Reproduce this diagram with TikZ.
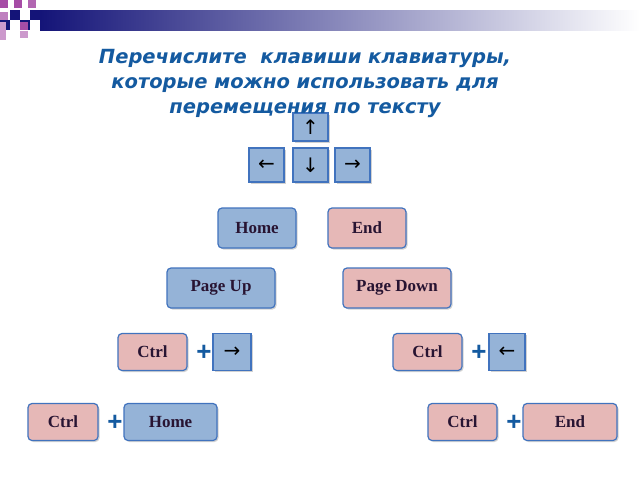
\documentclass[tikz,border=0pt]{standalone}
\usepackage{fontspec}
\setmainfont{Liberation Serif}
\newfontfamily\ttl{Liberation Sans}
\newfontfamily\arr{DejaVu Sans}
\usetikzlibrary{shadows}
\definecolor{kblue}{RGB}{149,179,215}
\definecolor{kpink}{RGB}{230,184,183}
\definecolor{kedge}{RGB}{65,115,190}
\definecolor{ttlc}{RGB}{20,90,160}
\definecolor{navy}{RGB}{20,20,120}
\definecolor{ktext}{RGB}{40,20,50}
\tikzset{
 key/.style={draw=kedge,line width=1.2pt,rounded corners=4pt,drop shadow={opacity=0.35,shadow xshift=1.5pt,shadow yshift=-1.5pt},font=\bfseries\fontsize{17}{17}\selectfont,text=ktext},
 bk/.style={key,fill=kblue},
 pk/.style={key,fill=kpink},
 ak/.style={draw=kedge,line width=1.2pt,fill=kblue,drop shadow={opacity=0.35,shadow xshift=1.5pt,shadow yshift=-1.5pt},font=\arr\fontsize{20}{20}\selectfont},
 plus/.style={font=\ttl\bfseries\fontsize{26}{26}\selectfont,text=ttlc,inner sep=0pt},
 ttlstyle/.style={text=ttlc,align=center,font=\arr\bfseries\itshape\fontsize{19.5}{25}\selectfont}
}
\begin{document}
\begin{tikzpicture}[x=1pt,y=-1pt]
\useasboundingbox (0,0) rectangle (640,480);
\fill[white] (0,0) rectangle (640,480);
% header
\shade[left color=navy,right color=white] (40,10) rectangle (640,30);
\fill[navy] (0,10) rectangle (40,30);
\fill[white] (0,10) rectangle (10,20);
\fill[white] (10,20) rectangle (20,30);
\fill[white] (20,10) rectangle (30,20);
\fill[white] (30,20) rectangle (40,30);
\fill[white] (0,0) rectangle (40,10);
\fill[violet!70] (0,0) rectangle (8,8);
\fill[violet!70] (14,0) rectangle (22,8);
\fill[violet!60] (28,0) rectangle (36,8);
\fill[violet!50] (0,12) rectangle (8,20);
\fill[violet!70] (20,22) rectangle (28,30);
\fill[violet!40] (20,31) rectangle (28,38);
\fill[violet!40] (0,22) rectangle (6,40);
% keys
\node[ak,minimum width=35pt,minimum height=28pt] (up) at (310.5,127) {↑};
\node[ak,minimum width=35pt,minimum height=34pt] (left) at (266.5,165) {←};
\node[ak,minimum width=35pt,minimum height=34pt] (down) at (310.5,165) {↓};
\node[ak,minimum width=35pt,minimum height=34pt] (right) at (352.5,165) {→};
\node[ttlstyle] (title) at (305,83) {Перечислите\ \ клавиши клавиатуры,\\ которые можно использовать для\\ перемещения по тексту};
\node[bk,minimum width=78pt,minimum height=40pt] (home) at (257,228) {Home};
\node[pk,minimum width=78pt,minimum height=40pt] (end) at (367,228) {End};
\node[bk,minimum width=108pt,minimum height=40pt] (pgup) at (221,288) {Page Up};
\node[pk,minimum width=108pt,minimum height=40pt] (pgdn) at (397,288) {Page Down};
\node[pk,minimum width=69pt,minimum height=37pt] (c1) at (152.5,352) {Ctrl};
\node[plus] (p1) at (204,353) {+};
\node[ak,minimum width=38pt,minimum height=37pt] (r1) at (232,352) {→};
\node[pk,minimum width=69pt,minimum height=37pt] (c2) at (427.5,352) {Ctrl};
\node[plus] (p2) at (479,353) {+};
\node[ak,minimum width=36pt,minimum height=37pt] (l1) at (507,352) {←};
\node[pk,minimum width=70pt,minimum height=37pt] (c3) at (63,422) {Ctrl};
\node[plus] (p3) at (115,423) {+};
\node[bk,minimum width=93pt,minimum height=37pt] (h2) at (170.5,422) {Home};
\node[pk,minimum width=69pt,minimum height=37pt] (c4) at (462.5,422) {Ctrl};
\node[plus] (p4) at (514,423) {+};
\node[pk,minimum width=94pt,minimum height=37pt] (e2) at (570,422) {End};
\end{tikzpicture}
\end{document}
